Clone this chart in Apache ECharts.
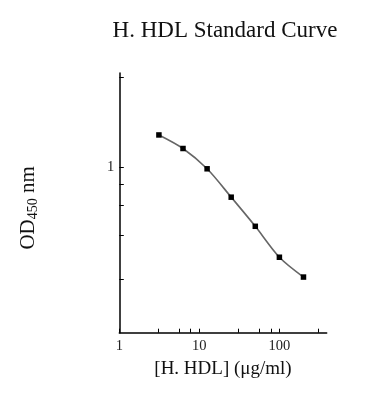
<!DOCTYPE html>
<html>
<head>
<meta charset="utf-8">
<script src="https://cdn.jsdelivr.net/npm/echarts@6/dist/echarts.min.js"></script>
<style>html,body{margin:0;padding:0;background:#fff;}#c{width:371px;height:400px;}</style>
</head>
<body>
<div id="c"></div>
<script>
const concentrations = [3.125, 6.25, 12.5, 25, 50, 100, 200];
const odValues = [1.57, 1.30, 0.98, 0.66, 0.44, 0.286, 0.217];
const xTickValues = [1, 3.1, 5.6, 7.8, 10, 31, 56, 78, 100, 310];
const xLabelValues = [1, 10, 100];
const yTickValues = [0.21, 0.39, 0.59, 0.79, 1, 3.53];
const yLabelValues = [1];

const serif = '"Liberation Serif", "Times New Roman", serif';
const chart = echarts.init(document.getElementById('c'));
chart.setOption({
  animation: false,
  backgroundColor: '#fff',
  title: {
    text: 'H. HDL Standard Curve',
    left: 220, top: 14, textAlign: 'center',
    textStyle: { fontFamily: serif, fontSize: 23, fontWeight: 'normal', color: '#111' }
  },
  grid: { left: 119.3, right: 44.3, top: 73, bottom: 67.3, containLabel: false },
  xAxis: {
    type: 'log', logBase: 10, min: 1, max: 390,
    name: '[H. HDL] (\u03BCg/ml)', nameLocation: 'middle', nameGap: 27,
    nameTextStyle: { fontFamily: serif, fontSize: 19, color: '#111' },
    axisLine: { lineStyle: { color: '#000', width: 1.5 } },
    axisTick: { show: true, inside: true, length: 4, customValues: xTickValues, lineStyle: { color: '#000' } },
    axisLabel: { customValues: xLabelValues, fontFamily: serif, fontSize: 14.5, color: '#222', margin: 6 },
    splitLine: { show: false }, minorTick: { show: false }
  },
  yAxis: {
    type: 'log', logBase: 10, min: 0.1, max: 3.72,
    name: '{m|OD}{s|450}{m| nm}', nameLocation: 'middle', nameRotate: 90, nameGap: 79,
    nameTextStyle: {
      padding: [0, 10, 0, 0],
      rich: {
        m: { fontFamily: serif, fontSize: 21, color: '#111' },
        s: { fontFamily: serif, fontSize: 14, color: '#111', verticalAlign: 'bottom', padding: [10, 0, 0, 0] }
      }
    },
    axisLine: { lineStyle: { color: '#000', width: 1.5 } },
    axisTick: { show: true, inside: true, length: 4.5, customValues: yTickValues, lineStyle: { color: '#000' } },
    axisLabel: { customValues: yLabelValues, fontFamily: serif, fontSize: 14.5, color: '#222', margin: 5 },
    splitLine: { show: false }, minorTick: { show: false }
  },
  series: [{
    type: 'line',
    data: concentrations.map((c, i) => [c, odValues[i]]),
    smooth: 0.3,
    symbol: 'rect', symbolSize: 5.5,
    itemStyle: { color: '#000' },
    lineStyle: { color: '#666', width: 1.6 }
  }]
});
</script>
</body>
</html>
